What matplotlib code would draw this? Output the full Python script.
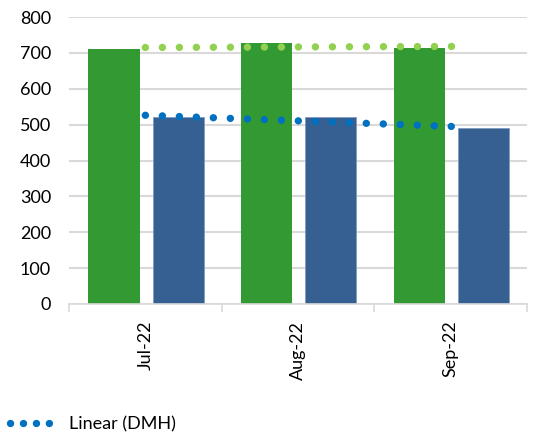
import matplotlib
matplotlib.use("Agg")
import matplotlib.pyplot as plt
from matplotlib.lines import Line2D
import numpy as np

months = ["Jul-22", "Aug-22", "Sep-22"]
green_vals = [710, 727, 713]
dmh_vals = [521, 521, 490]
y_ticks = [0, 100, 200, 300, 400, 500, 600, 700, 800]

plt.rcParams['font.family'] = ['Lato', 'DejaVu Sans']

fig = plt.figure(figsize=(5.35, 4.38), dpi=100)
ax = fig.add_axes([0.129, 0.306, 0.856, 0.655])

x = np.arange(len(months))
w = 0.335
ax.bar(x - 0.205, green_vals, width=w, color="#339933", zorder=2)
ax.bar(x + 0.215, dmh_vals, width=w, color="#376092", edgecolor="#7f9cc0",
       linewidth=0.6, zorder=2)

# linear trend lines
dot_style = (0, (0.01, 2.3))
g_fit = np.polyfit(x, green_vals, 1)
b_fit = np.polyfit(x, dmh_vals, 1)
xt = np.array([x[0], x[-1] + 0.05])
ax.plot(xt, np.polyval(g_fit, xt), color="#92D050", lw=5.3, linestyle=dot_style,
        dash_capstyle="round", zorder=3)
ax.plot(xt, np.polyval(b_fit, xt), color="#0070C0", lw=5.3,
        linestyle=dot_style, dash_capstyle="round", zorder=3)

ax.set_xlim(-0.5, len(months) - 0.5)
ax.set_ylim(0, 800)
ax.set_yticks(y_ticks)
ax.yaxis.grid(True, color="#D9D9D9", linewidth=1.5, zorder=0)
ax.set_axisbelow(True)
for s in ["top", "right", "left"]:
    ax.spines[s].set_visible(False)
ax.spines["bottom"].set_color("#D9D9D9")
ax.spines["bottom"].set_linewidth(1.2)

ax.set_xticks(x)
ax.set_xticklabels(months, rotation=90, fontsize=13)
ax.tick_params(axis="x", length=0, pad=12)
ax.set_xticks(np.arange(-0.5, len(months), 1.0), minor=True)
ax.tick_params(axis="x", which="minor", length=6, color="#D9D9D9", width=1.2)
ax.tick_params(axis="y", length=0, labelsize=13, pad=13)

leg_handle = Line2D([], [], color="#0070C0", lw=5.3, linestyle=(0, (0.01, 1.75)),
                    dash_capstyle="round")
fig.legend(handles=[leg_handle], labels=["Linear (DMH)"], loc="lower left",
           bbox_to_anchor=(-0.012, -0.025), frameon=False, fontsize=13,
           handlelength=2.25, handletextpad=1.0)

fig.savefig("out.png", dpi=100)
